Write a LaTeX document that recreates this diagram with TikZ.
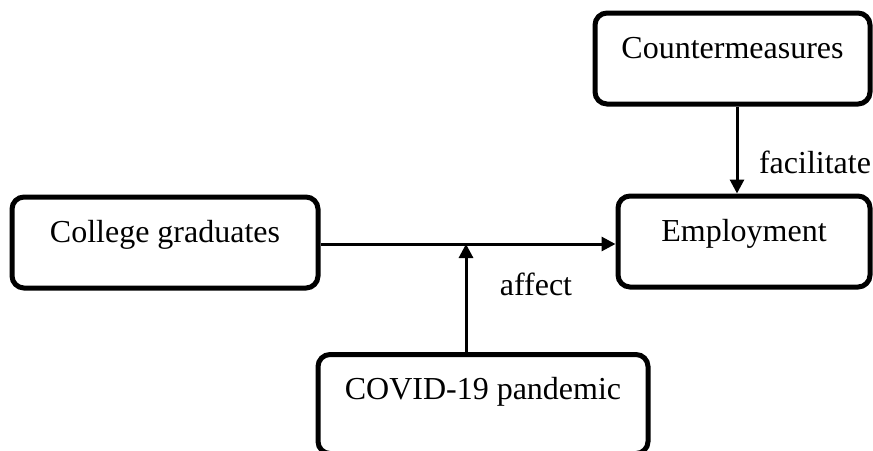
\documentclass[tikz,border=0pt]{standalone}
\usepackage{fontspec}
\setmainfont{Liberation Serif}
\usetikzlibrary{shapes,arrows.meta,positioning}
\def \tu {0.5pt}

\tikzset{
  box/.style={draw,line width=2.5pt,rounded corners=6pt,inner sep=0pt,
    text height=22.5pt,text depth=23pt,font=\fontsize{16}{19}\selectfont},
  lbl/.style={font=\fontsize{16}{19}\selectfont},
  arr/.style={line width=1.5pt,-{Triangle[length=7pt,width=7pt]}}
}

\begin{document}
\begin{tikzpicture}[x=\tu,y=-\tu]
    \useasboundingbox (0,0) rectangle (873,450);
    \node[box,minimum width=153pt] (grads) at (165,242.5) {College graduates};
    \node[box,minimum width=126pt] (employ) at (744,241.5) {Employment};
    \node[box,minimum width=137.5pt] (counter) at (732.5,58.5) {Countermeasures};
    \node[box,minimum width=165pt,text depth=27pt] (covid) at (483,404) {COVID-19 pandemic};
    \coordinate (hit) at (466,244);
    \draw[arr] (grads.east |- hit) -- (employ.west |- hit);
    \draw[arr] (hit |- covid.north) -- (hit);
    \draw[arr] (737,0 |- counter.south) -- (737,0 |- employ.north);
    \node[lbl] (affect) at (536,284) {affect};
    \node[lbl] (facil) at (815,162) {facilitate};
  \end{tikzpicture}
\end{document}
